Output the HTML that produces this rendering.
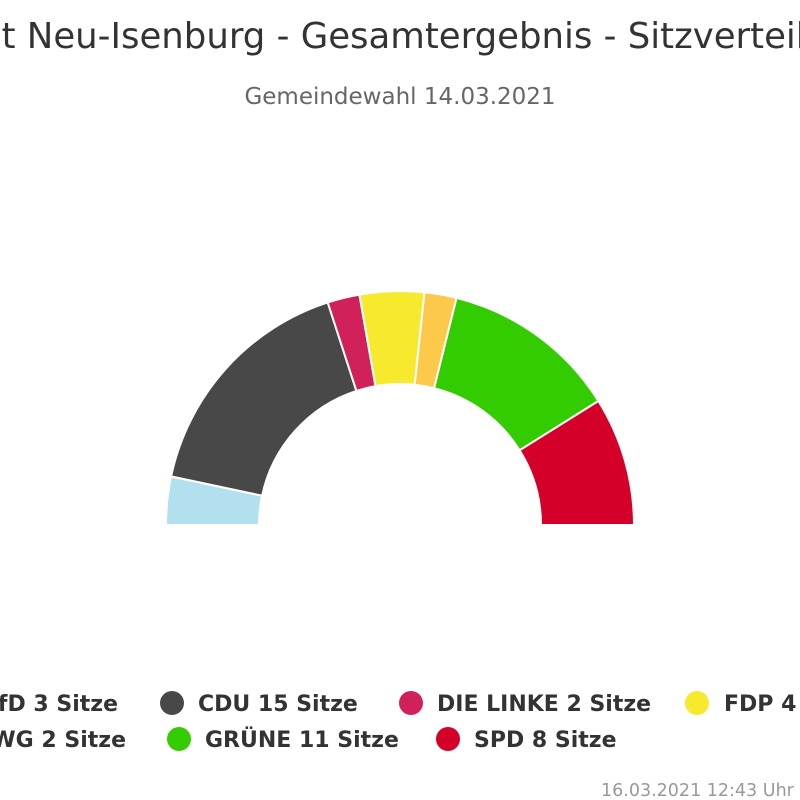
<!DOCTYPE html>
<html><head><meta charset="utf-8"><style>
html,body{margin:0;padding:0;background:#fff;width:800px;height:800px;overflow:hidden}
svg text{font-family:"DejaVu Sans","Liberation Sans",sans-serif}
</style></head><body>
<svg width="800" height="800" xmlns="http://www.w3.org/2000/svg">
<text x="397" y="48" text-anchor="middle" font-size="35.5" fill="#333">Stadt Neu-Isenburg - Gesamtergebnis - Sitzverteilung</text>
<text x="400" y="104" text-anchor="middle" font-size="23" fill="#666">Gemeindewahl 14.03.2021</text>
<g stroke="#fff" stroke-width="2" stroke-linejoin="round">
<path d="M166,525 A234,234 0 0 1 171.1,476.4 L262.1,495.7 A141,141 0 0 0 259,525 Z" fill="#b3e0ee"/>
<path d="M171.1,476.4 A234,234 0 0 1 327.7,302.4 L356.4,390.9 A141,141 0 0 0 262.1,495.7 Z" fill="#484848"/>
<path d="M327.7,302.4 A234,234 0 0 1 359.4,294.6 L375.5,386.1 A141,141 0 0 0 356.4,390.9 Z" fill="#d0215a"/>
<path d="M359.4,294.6 A234,234 0 0 1 424.5,292.3 L414.7,384.8 A141,141 0 0 0 375.5,386.1 Z" fill="#f7e92e"/>
<path d="M424.5,292.3 A234,234 0 0 1 456.6,297.9 L434.1,388.2 A141,141 0 0 0 414.7,384.8 Z" fill="#fdc94b"/>
<path d="M456.6,297.9 A234,234 0 0 1 598.4,401.0 L519.6,450.3 A141,141 0 0 0 434.1,388.2 Z" fill="#33cc00"/>
<path d="M598.4,401.0 A234,234 0 0 1 634,525 L541,525 A141,141 0 0 0 519.6,450.3 Z" fill="#d5002a"/>
</g>
<g font-size="22" font-weight="bold" fill="#333">
<circle cx="-80" cy="703" r="12" fill="#b3e0ee"/>
<text x="118" y="711" text-anchor="end">AfD 3 Sitze</text>
<circle cx="172" cy="703" r="12" fill="#484848"/>
<text x="198" y="711">CDU 15 Sitze</text>
<circle cx="411" cy="703" r="12" fill="#d0215a"/>
<text x="437" y="711">DIE LINKE 2 Sitze</text>
<circle cx="697" cy="703" r="12" fill="#f7e92e"/>
<text x="724" y="711">FDP 4 Sitze</text>
<text x="126" y="747" text-anchor="end">FWG 2 Sitze</text>
<circle cx="179" cy="739" r="12" fill="#33cc00"/>
<text x="205" y="747">GRÜNE 11 Sitze</text>
<circle cx="448" cy="739" r="12" fill="#d5002a"/>
<text x="474" y="747">SPD 8 Sitze</text>
</g>
<text x="601" y="796" font-size="17.5" fill="#999">16.03.2021 12:43 Uhr</text>
</svg>
</body></html>
